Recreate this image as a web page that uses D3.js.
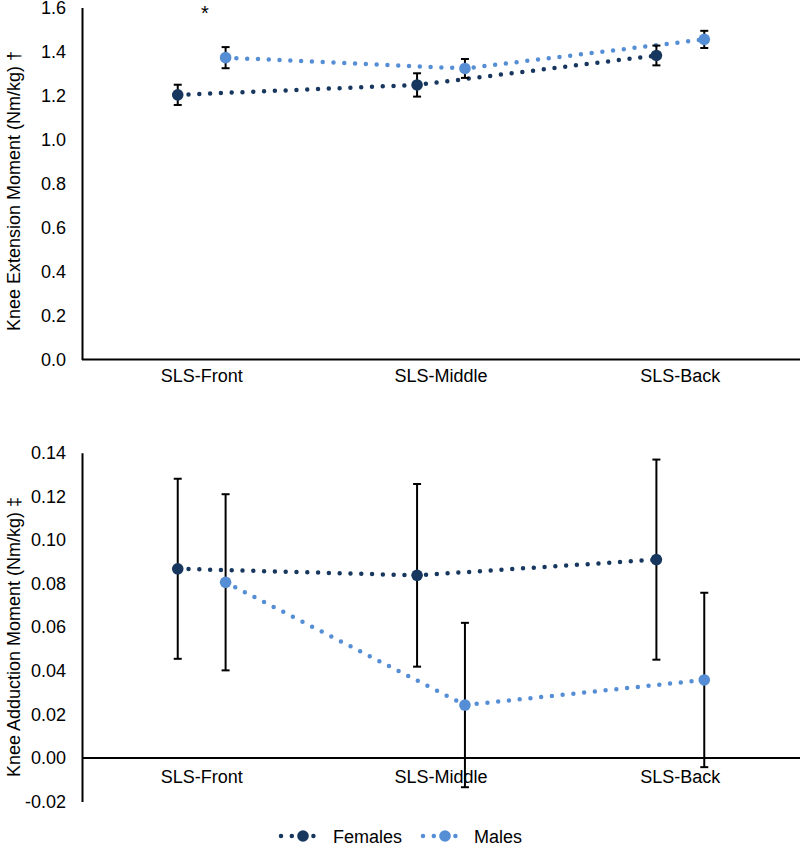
<!DOCTYPE html>
<html>
<head>
<meta charset="utf-8">
<script src="https://cdn.jsdelivr.net/npm/d3@7"></script>
<style>
  body { margin: 0; background: #fff; }
  svg { display: block; font-family: "Liberation Sans", Arial, sans-serif; }
</style>
</head>
<body>
<svg id="chart" width="800" height="844"></svg>
<script>
// ---- data ----
const categories = ["SLS-Front", "SLS-Middle", "SLS-Back"];
const seriesNames = ["Females", "Males"];
const seriesColors = ["#17375e", "#558ed5"];

// Knee extension moment (Nm/kg)
const extFemales = [1.203, 1.248, 1.382];
const extFemalesErr = [0.046, 0.053, 0.045];
const extMales = [1.372, 1.323, 1.455];
const extMalesErr = [0.048, 0.043, 0.039];
const extTicks = [0.0, 0.2, 0.4, 0.6, 0.8, 1.0, 1.2, 1.4, 1.6];

// Knee adduction moment (Nm/kg)
const addFemales = [0.0868, 0.0838, 0.0910];
const addFemalesErr = [0.0413, 0.0419, 0.0459];
const addMales = [0.0806, 0.0243, 0.0358];
const addMalesErr = [0.0404, 0.0377, 0.0400];
const addTicks = [-0.02, 0.00, 0.02, 0.04, 0.06, 0.08, 0.10, 0.12, 0.14];

const svg = d3.select("#chart");
const x = d3.scaleBand().domain(categories).range([82, 800]);
const offset = [-0.1, 0.1];

function panel(opts) {
  const g = svg.append("g");
  const y = d3.scaleLinear().domain(opts.domain).range(opts.range);
  const fmt = d => d3.format(opts.fmt)(d).replace("\u2212", "-");

  // y axis
  const ya = g.append("g").attr("transform", "translate(82,0)")
    .call(d3.axisLeft(y).tickValues(opts.ticks).tickFormat(fmt).tickSize(0).tickPadding(16));
  ya.select(".domain").attr("stroke", "#000").attr("stroke-width", 2);
  ya.selectAll("text").attr("font-size", 18).attr("fill", "#000")
    .attr("font-family", "Liberation Sans, Arial, sans-serif");

  // x axis line at 0
  g.append("line").attr("x1", 82).attr("x2", 800)
    .attr("y1", y(0)).attr("y2", y(0)).attr("stroke", "#000").attr("stroke-width", 2);

  // category labels
  g.selectAll("text.cat").data(categories).enter().append("text")
    .attr("class", "cat")
    .attr("x", d => x(d) + x.bandwidth() / 2)
    .attr("y", opts.catY)
    .attr("text-anchor", "middle").attr("font-size", 18).attr("fill", "#000")
    .text(d => d);

  // y title
  g.append("text")
    .attr("transform", `translate(19.5,${opts.titleY}) rotate(-90)`)
    .attr("text-anchor", "middle").attr("font-size", 18).attr("fill", "#000")
    .text(opts.title);

  const data = [
    { vals: opts.f, err: opts.fe, i: 0 },
    { vals: opts.m, err: opts.me, i: 1 }
  ];
  const px = (s, j) => x(categories[j]) + x.bandwidth() / 2 + offset[s.i] * x.bandwidth();

  // dotted lines
  data.forEach(s => {
    const line = d3.line().x((d, j) => px(s, j)).y(d => y(d));
    g.append("path").datum(s.vals).attr("d", line)
      .attr("fill", "none").attr("stroke", seriesColors[s.i])
      .attr("stroke-width", 4.5).attr("stroke-linecap", "round")
      .attr("stroke-dasharray", "0 10.8");
  });

  // error bars
  data.forEach(s => {
    s.vals.forEach((v, j) => {
      const cx = px(s, j);
      const lo = y(v - s.err[j]), hi = y(v + s.err[j]);
      g.append("line").attr("x1", cx).attr("x2", cx).attr("y1", lo).attr("y2", hi)
        .attr("stroke", "#000").attr("stroke-width", 2);
      [lo, hi].forEach(yy => g.append("line").attr("x1", cx - 4).attr("x2", cx + 4)
        .attr("y1", yy).attr("y2", yy).attr("stroke", "#000").attr("stroke-width", 2));
    });
  });

  // markers
  data.forEach(s => {
    g.selectAll(null).data(s.vals).enter().append("circle")
      .attr("cx", (d, j) => px(s, j)).attr("cy", d => y(d)).attr("r", 5.8)
      .attr("fill", seriesColors[s.i]);
  });
  return y;
}

panel({
  domain: [0, 1.6], range: [359.5, 7.5], ticks: extTicks, fmt: ".1f",
  catY: 382, titleY: 191, title: "Knee Extension Moment (Nm/kg) \u2020",
  f: extFemales, fe: extFemalesErr, m: extMales, me: extMalesErr
});

// significance asterisk
svg.append("text").attr("x", 205).attr("y", 20).attr("text-anchor", "middle")
  .attr("font-size", 20).attr("fill", "#000").text("*");

panel({
  domain: [-0.02, 0.14], range: [801.6, 452.8], ticks: addTicks, fmt: ".2f",
  catY: 783, titleY: 637, title: "Knee Adduction Moment (Nm/kg) \u2021",
  f: addFemales, fe: addFemalesErr, m: addMales, me: addMalesErr
});

// legend
const legendItems = [
  { name: seriesNames[0], color: seriesColors[0], x0: 281, tx: 333 },
  { name: seriesNames[1], color: seriesColors[1], x0: 423, tx: 474 }
];
const ly = 836;
legendItems.forEach(it => {
  const lg = svg.append("g");
  lg.append("line").attr("x1", it.x0).attr("x2", it.x0 + 43).attr("y1", ly).attr("y2", ly)
    .attr("stroke", it.color).attr("stroke-width", 4.5).attr("stroke-linecap", "round")
    .attr("stroke-dasharray", "0 10.8");
  lg.append("circle").attr("cx", it.x0 + 22).attr("cy", ly).attr("r", 5.8).attr("fill", it.color);
  lg.append("text").attr("x", it.tx).attr("y", ly + 6.5).attr("font-size", 18).attr("fill", "#000")
    .text(it.name);
});
</script>
</body>
</html>
